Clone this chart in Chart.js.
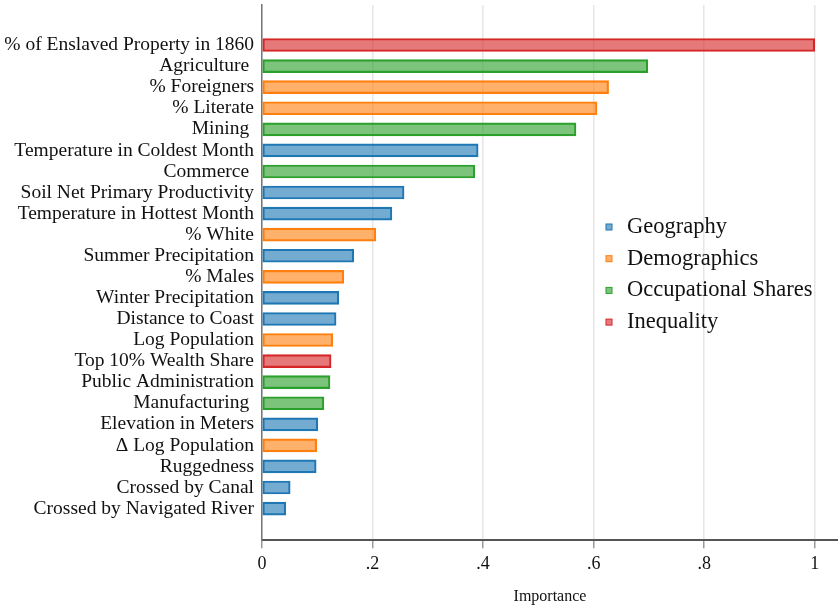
<!DOCTYPE html>
<html>
<head>
<meta charset="utf-8">
<script src="https://cdn.jsdelivr.net/npm/chart.js@4"></script>
<style>
  html, body { margin: 0; padding: 0; background: #fff; }
  #wrap { width: 838px; height: 606px; }
</style>
</head>
<body>
<div id="wrap"><canvas id="importance"></canvas></div>
<script>
// Variable labels, top to bottom
const labels = [
    '% of Enslaved Property in 1860', 'Agriculture ', '% Foreigners', '% Literate', 'Mining ',
    'Temperature in Coldest Month', 'Commerce ', 'Soil Net Primary Productivity',
    'Temperature in Hottest Month', '% White', 'Summer Precipitation', '% Males',
    'Winter Precipitation', 'Distance to Coast', 'Log Population', 'Top 10% Wealth Share',
    'Public Administration', 'Manufacturing ', 'Elevation in Meters', '\u0394 Log Population',
    'Ruggedness', 'Crossed by Canal', 'Crossed by Navigated River'
];
const importance = [
    1.0, 0.698, 0.627, 0.606, 0.568,
    0.391, 0.385, 0.257,
    0.235, 0.206, 0.166, 0.148,
    0.139, 0.134, 0.128, 0.125,
    0.123, 0.112, 0.101, 0.099,
    0.098, 0.051, 0.043
];
const group = [
    'Inequality', 'Occupational Shares', 'Demographics', 'Demographics', 'Occupational Shares',
    'Geography', 'Occupational Shares', 'Geography',
    'Geography', 'Demographics', 'Geography', 'Demographics',
    'Geography', 'Geography', 'Demographics', 'Inequality',
    'Occupational Shares', 'Occupational Shares', 'Geography', 'Demographics',
    'Geography', 'Geography', 'Geography'
];
const groupNames = ['Geography', 'Demographics', 'Occupational Shares', 'Inequality'];
const groupColors = ['31, 119, 180', '255, 127, 14', '44, 160, 44', '214, 39, 40'];
const xTicks = [0, 0.2, 0.4, 0.6, 0.8, 1];

const datasets = groupNames.map((name, g) => ({
    label: name,
    data: labels.map((l, i) => ({ x: importance[i], y: i })).filter((p, i) => group[i] === name),
    backgroundColor: `rgba(${groupColors[g]}, 0.62)`,
    borderColor: `rgb(${groupColors[g]})`,
    borderWidth: 1.5,
    borderSkipped: false,
    barThickness: 13,
    grouped: false
}));

// legend drawn inside the plot, right side
const innerLegend = {
    id: 'innerLegend',
    afterDraw(chart) {
        const ctx = chart.ctx;
        ctx.save();
        ctx.font = '22.5px "Liberation Serif", serif';
        ctx.textBaseline = 'middle';
        chart.data.datasets.forEach((ds, i) => {
            const y = 227 + i * 31.7;
            ctx.fillStyle = ds.backgroundColor;
            ctx.fillRect(606, y - 3, 6, 6);
            ctx.strokeStyle = ds.borderColor;
            ctx.lineWidth = 1;
            ctx.strokeRect(606, y - 3, 6, 6);
            ctx.fillStyle = '#111';
            ctx.fillText(ds.label, 627, y);
        });
        ctx.restore();
    }
};

const ctx = document.getElementById('importance').getContext('2d');
new Chart(ctx, {
    type: 'bar',
    data: { datasets: datasets },
    plugins: [innerLegend],
    options: {
        indexAxis: 'y',
        responsive: true,
        maintainAspectRatio: false,
        animation: false,
        layout: { padding: { top: 5, left: 2, right: 0, bottom: 0 } },
        plugins: {
            legend: { display: false },
            tooltip: { enabled: false }
        },
        scales: {
            x: {
                type: 'linear',
                min: 0,
                max: 1.042,
                afterBuildTicks: axis => { axis.ticks = xTicks.map(v => ({ value: v })); },
                ticks: {
                    color: '#111',
                    font: { family: 'Liberation Serif', size: 18 },
                    padding: 5,
                    callback: v => v === 0 ? '0' : v === 1 ? '1' : String(v.toFixed(1)).replace(/^0/, '')
                },
                grid: { color: '#e6e6e6', lineWidth: 1.5, tickColor: '#999', tickLength: 8 },
                border: { color: '#555', width: 2 },
                title: {
                    display: true,
                    text: 'Importance',
                    color: '#111',
                    font: { family: 'Liberation Serif', size: 16 },
                    padding: { top: 7, bottom: 0 }
                }
            },
            y: {
                type: 'linear',
                reverse: true,
                offset: false,
                min: -1.9,
                max: 23.5,
                afterBuildTicks: axis => { axis.ticks = labels.map((l, i) => ({ value: i })); },
                afterFit: axis => { axis.width = 260; axis.paddingTop = 0; axis.paddingBottom = 0; },
                ticks: {
                    color: '#111',
                    font: { family: 'Liberation Serif', size: 19.5 },
                    padding: 8,
                    autoSkip: false,
                    callback: v => labels[v]
                },
                grid: { display: false, drawTicks: false },
                border: { color: '#777', width: 1.5 }
            }
        }
    }
});
</script>
</body>
</html>
